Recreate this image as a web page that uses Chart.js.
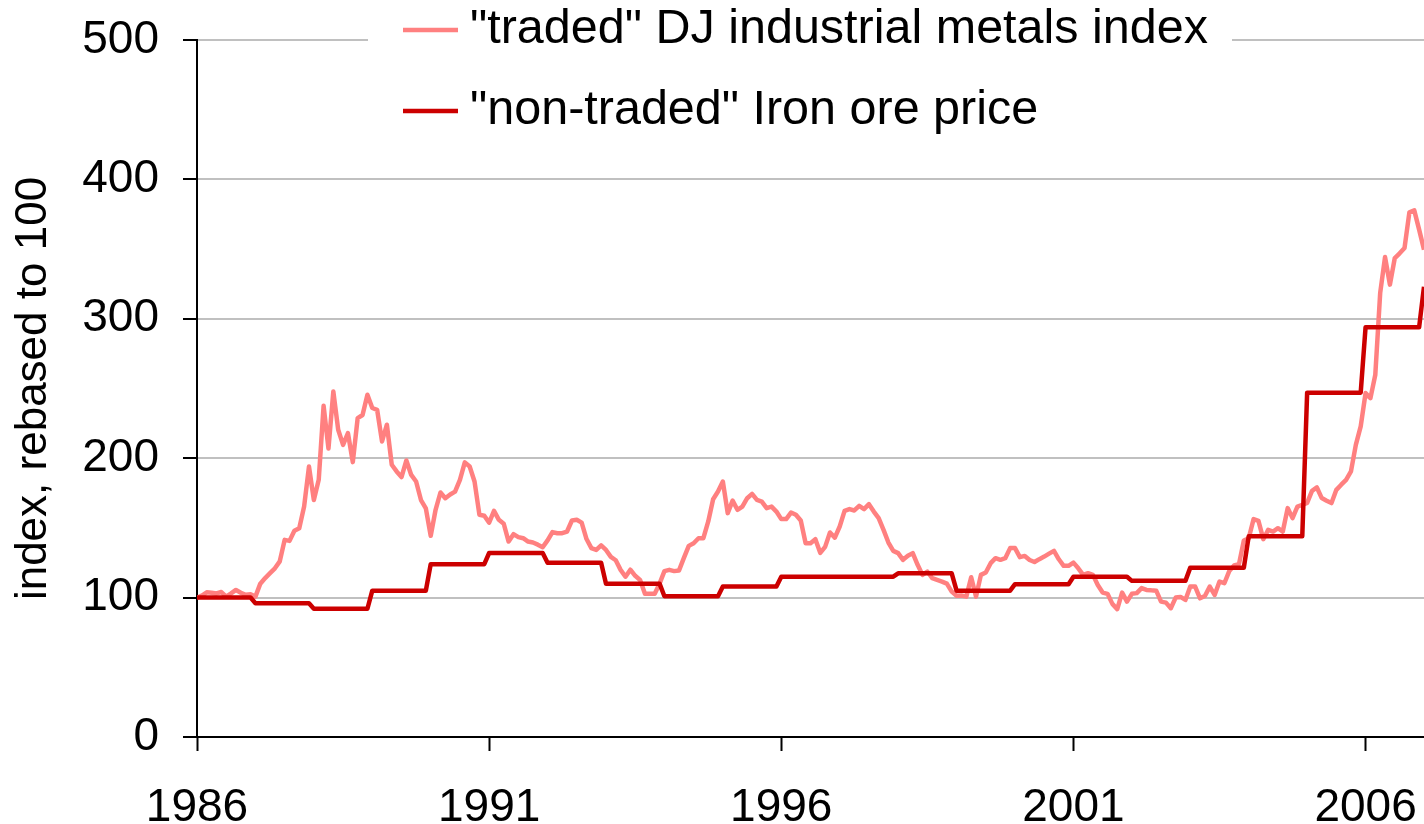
<!DOCTYPE html>
<html>
<head>
<meta charset="utf-8">
<script src="https://cdn.jsdelivr.net/npm/chart.js@4.4.1/dist/chart.umd.min.js"></script>
<style>
  html, body { margin: 0; padding: 0; background: #ffffff; }
  #wrap { width: 1424px; height: 824px; position: relative; overflow: hidden; }
  canvas { display: block; }
</style>
</head>
<body>
<div id="wrap"><canvas id="c" width="1424" height="824"></canvas></div>
<script>
// ---- data ----
const startYear = 1986; // first monthly observation: Jan 1986
const seriesLabels = ['"traded" DJ industrial metals index', '"non-traded" Iron ore price'];
const metalsIndex = [
  100, 101.5, 103.8, 103.5, 103, 104, 100.7, 103, 105.5, 103.5, 102, 102.4,
  100.7, 110, 114, 117.5, 121, 126, 141.4, 140.7, 148, 149.8, 165.3, 194,
  170, 184.5, 237.6, 207, 247.9, 220.4, 209.6, 218, 197.2, 228.8, 231, 245.5,
  236, 234.7, 212, 224, 195.3, 190.5, 186.4, 198.4, 188, 183.3, 170, 164,
  144.3, 163, 175.4, 171.3, 174, 176, 184.5, 197, 194, 183.3, 159.4, 158.7,
  153.8, 162.2, 155.8, 153, 140.2, 145.5, 143.4, 142.6, 140.2, 139.5, 138, 136.2,
  141, 147, 146.2, 146.2, 147.4, 155.3, 155.8, 153.8, 142, 135.5, 134.2, 137.5,
  134.2, 129.2, 126.8, 119.9, 115, 120, 115.6, 112.7, 102.7, 102.7, 102.7, 110,
  119, 119.9, 119, 119.5, 128.5, 137.1, 139, 142.6, 142.6, 154.6, 170.6, 176.1,
  183.3, 160.6, 169.6, 163, 165.3, 171.3, 174.4, 170.1, 168.9, 164.2, 165.3, 161.7,
  156.3, 156.3, 161, 159.4, 155.3, 139, 139, 141.9, 132.1, 136.4, 146.7, 143,
  151, 162.2, 163.5, 162.5, 165.8, 163.5, 167, 161.7, 157, 148.6, 139.5, 133.5,
  131.9, 127.1, 130, 131.9, 123.5, 116.3, 118.7, 113.9, 112.7, 111.5, 110, 104.3,
  101.4, 101.5, 100.7, 114.6, 100.7, 116.3, 118, 124.7, 128.3, 127.1, 128.3, 135.5,
  135.5, 129, 129.9, 127, 125.5, 127.6, 129.4, 131.5, 133.5, 127.5, 122.8, 122.8,
  125.1, 121, 116.3, 117.5, 116.3, 109, 103.6, 102.7, 95.5, 91.7, 103.6, 97.1,
  102.7, 103.2, 106.8, 105.5, 105.2, 105, 97.1, 96.4, 92.4, 100, 100.5, 98.3,
  107.9, 107.9, 99.5, 101.2, 107.9, 101.9, 111.5, 110.3, 119, 123, 124, 141,
  142.6, 156.3, 155, 141.9, 148.6, 147.4, 149.8, 147.4, 164.2, 157, 165.3, 166.5,
  168, 176.6, 179, 171.4, 169.5, 167.8, 177.3, 181, 184.5, 190.5, 209.6, 222.8,
  246.7, 243.1, 259.9, 318.5, 344.3, 324.5, 343.6, 347, 350.8, 376.4, 377.8, 364,
  349.6
];
const ironOreYears = [1986, 1987, 1988, 1989, 1990, 1991, 1992, 1993, 1994, 1995, 1996,
                      1997, 1998, 1999, 2000, 2001, 2002, 2003, 2004, 2005, 2006, 2007];
const ironOrePrice = [100, 96, 92, 105, 124, 132, 125, 110, 101, 108, 115,
                      115, 117.4, 105, 109.6, 115, 112, 121.5, 144, 247, 294, 323];
const xTickYears = [1986, 1991, 1996, 2001, 2006];
const yTickValues = [0, 100, 200, 300, 400, 500];

// ---- build library data ----
const monthX = metalsIndex.map((_, i) => startYear + i / 12);
const metalsPoints = metalsIndex.map((v, i) => ({ x: monthX[i], y: v }));
const ironPoints = monthX.map(x => {
  const yr = Math.floor(x + 1e-9);
  return { x: x, y: ironOrePrice[ironOreYears.indexOf(yr)] };
});

const FONT = "'Liberation Sans', Arial, sans-serif";

const legendBox = {
  id: 'legendBox',
  afterDraw(chart) {
    const ctx = chart.ctx;
    ctx.save();
    ctx.fillStyle = '#ffffff';
    ctx.fillRect(368, 0, 864, 140);
    const rows = [
      { y: 30, color: '#FF8080', text: chart.data.datasets[0].label },
      { y: 111, color: '#CC0000', text: chart.data.datasets[1].label }
    ];
    rows.forEach(r => {
      ctx.strokeStyle = r.color;
      ctx.lineWidth = 4.5;
      ctx.beginPath();
      ctx.moveTo(403, r.y);
      ctx.lineTo(458, r.y);
      ctx.stroke();
      ctx.fillStyle = '#000000';
      ctx.font = '48.5px ' + FONT;
      ctx.textBaseline = 'middle';
      ctx.textAlign = 'left';
      ctx.fillText(r.text, 470, r.y);
    });
    ctx.restore();
  }
};

new Chart(document.getElementById('c'), {
  type: 'line',
  data: {
    datasets: [
      { label: seriesLabels[0], data: metalsPoints, borderColor: '#FF8080', borderWidth: 4.5,
        pointRadius: 0, tension: 0, fill: false, order: 2, borderJoinStyle: 'round' },
      { label: seriesLabels[1], data: ironPoints, borderColor: '#CC0000', borderWidth: 4.5,
        pointRadius: 0, tension: 0, fill: false, order: 1, borderJoinStyle: 'round' }
    ]
  },
  options: {
    responsive: false,
    animation: false,
    devicePixelRatio: 1,
    layout: { padding: { top: 40, right: 0, left: 0, bottom: 0 } },
    plugins: { legend: { display: false }, tooltip: { enabled: false }, title: { display: false } },
    scales: {
      x: {
        type: 'linear',
        min: 1986,
        max: 2007,
        afterBuildTicks: s => { s.ticks = xTickYears.map(v => ({ value: v })); },
        afterFit: s => { s.height = 87; s.paddingLeft = 0; s.paddingRight = 0; },
        ticks: {
          color: '#000', font: { family: FONT, size: 46 }, padding: 30,
          maxRotation: 0, autoSkip: false, callback: v => String(v)
        },
        grid: { drawOnChartArea: false, drawTicks: true, tickLength: 14, tickColor: '#000', tickWidth: 2 },
        border: { color: '#000', width: 2 }
      },
      y: {
        min: 0,
        max: 500,
        afterBuildTicks: s => { s.ticks = yTickValues.map(v => ({ value: v })); },
        afterFit: s => { s.width = 197; s.paddingTop = 0; s.paddingBottom = 0; },
        ticks: { color: '#000', font: { family: FONT, size: 46 }, padding: 24 },
        grid: { color: '#c0c0c0', lineWidth: 2, tickLength: 14, tickColor: '#000', tickWidth: 2 },
        border: { color: '#000', width: 2 },
        title: { display: true, text: 'index, rebased to 100', color: '#000',
                 font: { family: FONT, size: 44 }, padding: { top: 7, bottom: 0 } }
      }
    }
  },
  plugins: [legendBox]
});
</script>
</body>
</html>
